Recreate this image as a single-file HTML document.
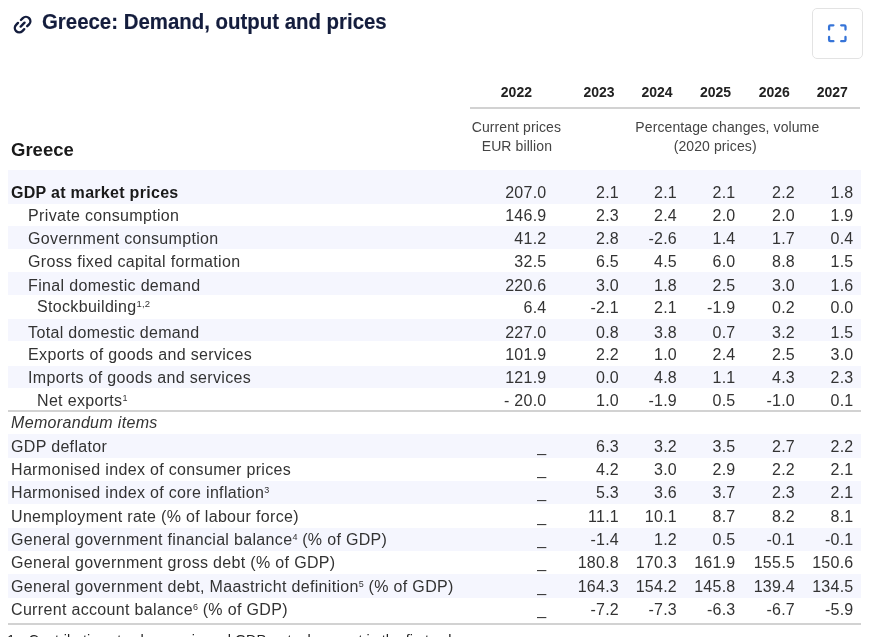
<!DOCTYPE html>
<html><head><meta charset="utf-8">
<style>
html,body{margin:0;padding:0;background:#fff;}
body{width:880px;height:637px;overflow:hidden;position:relative;font-family:"Liberation Sans",sans-serif;color:#333;}
.abs{position:absolute;white-space:nowrap;}
.title{left:41.7px;top:8px;font-size:21.6px;transform:scaleX(0.945);transform-origin:0 0;font-weight:bold;color:#141d3d;line-height:28px;-webkit-text-stroke:0.15px #141d3d;}
.btn{left:812px;top:8px;width:49px;height:49px;border:1px solid #e3e3e3;border-radius:5px;}
.yr{top:83px;font-size:14px;font-weight:bold;color:#222;line-height:18px;text-align:center;width:60px;}
.hrule{left:470px;top:107px;width:390px;height:2px;background:#d2d2d2;}
.sub{font-size:14px;letter-spacing:0.1px;color:#444;line-height:19px;text-align:center;width:240px;}
.greece{left:11px;top:139px;font-size:18.5px;font-weight:bold;color:#1a1a1a;line-height:22px;}
.sh{position:absolute;left:8px;width:853px;background:#f5f6fe;}
.lab{position:absolute;white-space:nowrap;font-size:16px;letter-spacing:0.33px;line-height:20px;transform:scaleX(1.0);transform-origin:0 0;}
.num{position:absolute;white-space:nowrap;font-size:16px;letter-spacing:0.25px;line-height:20px;text-align:right;width:80px;transform:scaleX(1.0);transform-origin:100% 0;}
sup{font-size:9.5px;vertical-align:top;position:relative;top:1.5px;letter-spacing:0.2px;line-height:10px;}
sup.u{font-size:9px;top:2px;letter-spacing:0;}
.line{position:absolute;left:8px;width:853px;height:2px;background:#d2d2d2;}
.foot{top:631px;font-size:14.4px;color:#222;line-height:18px;}
</style></head><body>
<div id="wrap" style="position:absolute;left:0;top:0;width:880px;height:637px;will-change:transform">
<svg class="abs" style="left:9.8px;top:11.8px" width="25.2" height="25.2" viewBox="-12 -12 24 24" fill="none" stroke="#141d3d" stroke-width="2.3" stroke-linecap="round"><g transform="rotate(-45)"><path d="M2 -4.2H4.5A4.2 4.2 0 0 1 4.5 4.2H2"/><path d="M-2 4.2H-4.5A4.2 4.2 0 0 1 -4.5 -4.2H-2"/><path d="M-2.6 0H2.6"/></g></svg>
<div class="abs title">Greece: Demand, output and prices</div>
<div class="abs btn"></div><svg class="abs" style="left:812px;top:8px" width="51" height="51" viewBox="0 0 51 51" fill="none" stroke="#3674d8" stroke-width="2.3" stroke-linecap="round" stroke-linejoin="round"><path d="M17.1 21.6V18.6Q17.1 17.3 18.4 17.3H21.4M29.2 17.3H32.2Q33.5 17.3 33.5 18.6V21.6M33.5 29V31.9Q33.5 33.2 32.2 33.2H29.2M21.4 33.2H18.4Q17.1 33.2 17.1 31.9V29"/></svg>
<div class="abs yr" style="left:486.4px">2022</div>
<div class="abs yr" style="left:569px">2023</div>
<div class="abs yr" style="left:627px">2024</div>
<div class="abs yr" style="left:685.5px">2025</div>
<div class="abs yr" style="left:744.3px">2026</div>
<div class="abs yr" style="left:802.3px">2027</div>
<div class="abs hrule"></div>
<div class="abs sub" style="left:396.4px;top:118px">Current prices</div>
<div class="abs sub" style="left:396.9px;top:137px">EUR billion</div>
<div class="abs sub" style="left:607.3px;top:118px">Percentage changes, volume</div>
<div class="abs sub" style="left:595.2px;top:137px">(2020 prices)</div>
<div class="abs greece">Greece</div>
<div class="sh" style="top:170px;height:33.6px"></div>
<div class="sh" style="top:226.2px;height:22.4px"></div>
<div class="sh" style="top:272.3px;height:22.6px"></div>
<div class="sh" style="top:318.7px;height:22.6px"></div>
<div class="sh" style="top:365.9px;height:21.9px"></div>
<div class="sh" style="top:434.2px;height:23.35px"></div>
<div class="sh" style="top:480.9px;height:23.35px"></div>
<div class="sh" style="top:527.6px;height:23.35px"></div>
<div class="sh" style="top:574.3px;height:23.35px"></div>
<div class="lab" style="left:11px;top:183px;font-weight:bold;color:#1a1a1a;letter-spacing:0.3px;">GDP at market prices</div>
<div class="num" style="left:466.5px;top:183px">207.0</div>
<div class="num" style="left:539px;top:183px">2.1</div>
<div class="num" style="left:597px;top:183px">2.1</div>
<div class="num" style="left:655.5px;top:183px">2.1</div>
<div class="num" style="left:715px;top:183px">2.2</div>
<div class="num" style="left:773.5px;top:183px">1.8</div>
<div class="lab" style="left:28.1px;top:206px;">Private consumption</div>
<div class="num" style="left:466.5px;top:206px">146.9</div>
<div class="num" style="left:539px;top:206px">2.3</div>
<div class="num" style="left:597px;top:206px">2.4</div>
<div class="num" style="left:655.5px;top:206px">2.0</div>
<div class="num" style="left:715px;top:206px">2.0</div>
<div class="num" style="left:773.5px;top:206px">1.9</div>
<div class="lab" style="left:28.1px;top:229px;">Government consumption</div>
<div class="num" style="left:466.5px;top:229px">41.2</div>
<div class="num" style="left:539px;top:229px">2.8</div>
<div class="num" style="left:597px;top:229px">-2.6</div>
<div class="num" style="left:655.5px;top:229px">1.4</div>
<div class="num" style="left:715px;top:229px">1.7</div>
<div class="num" style="left:773.5px;top:229px">0.4</div>
<div class="lab" style="left:28.1px;top:252px;">Gross fixed capital formation</div>
<div class="num" style="left:466.5px;top:252px">32.5</div>
<div class="num" style="left:539px;top:252px">6.5</div>
<div class="num" style="left:597px;top:252px">4.5</div>
<div class="num" style="left:655.5px;top:252px">6.0</div>
<div class="num" style="left:715px;top:252px">8.8</div>
<div class="num" style="left:773.5px;top:252px">1.5</div>
<div class="lab" style="left:28.1px;top:276px;">Final domestic demand</div>
<div class="num" style="left:466.5px;top:276px">220.6</div>
<div class="num" style="left:539px;top:276px">3.0</div>
<div class="num" style="left:597px;top:276px">1.8</div>
<div class="num" style="left:655.5px;top:276px">2.5</div>
<div class="num" style="left:715px;top:276px">3.0</div>
<div class="num" style="left:773.5px;top:276px">1.6</div>
<div class="lab" style="left:37px;top:297px;">Stockbuilding<sup>1,2</sup></div>
<div class="num" style="left:466.5px;top:298px">6.4</div>
<div class="num" style="left:539px;top:298px">-2.1</div>
<div class="num" style="left:597px;top:298px">2.1</div>
<div class="num" style="left:655.5px;top:298px">-1.9</div>
<div class="num" style="left:715px;top:298px">0.2</div>
<div class="num" style="left:773.5px;top:298px">0.0</div>
<div class="lab" style="left:28.1px;top:323px;">Total domestic demand</div>
<div class="num" style="left:466.5px;top:323px">227.0</div>
<div class="num" style="left:539px;top:323px">0.8</div>
<div class="num" style="left:597px;top:323px">3.8</div>
<div class="num" style="left:655.5px;top:323px">0.7</div>
<div class="num" style="left:715px;top:323px">3.2</div>
<div class="num" style="left:773.5px;top:323px">1.5</div>
<div class="lab" style="left:28.1px;top:345px;">Exports of goods and services</div>
<div class="num" style="left:466.5px;top:345px">101.9</div>
<div class="num" style="left:539px;top:345px">2.2</div>
<div class="num" style="left:597px;top:345px">1.0</div>
<div class="num" style="left:655.5px;top:345px">2.4</div>
<div class="num" style="left:715px;top:345px">2.5</div>
<div class="num" style="left:773.5px;top:345px">3.0</div>
<div class="lab" style="left:28.1px;top:368px;">Imports of goods and services</div>
<div class="num" style="left:466.5px;top:368px">121.9</div>
<div class="num" style="left:539px;top:368px">0.0</div>
<div class="num" style="left:597px;top:368px">4.8</div>
<div class="num" style="left:655.5px;top:368px">1.1</div>
<div class="num" style="left:715px;top:368px">4.3</div>
<div class="num" style="left:773.5px;top:368px">2.3</div>
<div class="lab" style="left:37px;top:391px;">Net exports<sup class="u">1</sup></div>
<div class="num" style="left:466.5px;top:391px">- 20.0</div>
<div class="num" style="left:539px;top:391px">1.0</div>
<div class="num" style="left:597px;top:391px">-1.9</div>
<div class="num" style="left:655.5px;top:391px">0.5</div>
<div class="num" style="left:715px;top:391px">-1.0</div>
<div class="num" style="left:773.5px;top:391px">0.1</div>
<div class="lab" style="left:11px;top:413px;font-style:italic;">Memorandum items</div>
<div class="lab" style="left:11px;top:437px;">GDP deflator</div>
<div class="num" style="left:466.5px;top:437px">_</div>
<div class="num" style="left:539px;top:437px">6.3</div>
<div class="num" style="left:597px;top:437px">3.2</div>
<div class="num" style="left:655.5px;top:437px">3.5</div>
<div class="num" style="left:715px;top:437px">2.7</div>
<div class="num" style="left:773.5px;top:437px">2.2</div>
<div class="lab" style="left:11px;top:460px;">Harmonised index of consumer prices</div>
<div class="num" style="left:466.5px;top:460px">_</div>
<div class="num" style="left:539px;top:460px">4.2</div>
<div class="num" style="left:597px;top:460px">3.0</div>
<div class="num" style="left:655.5px;top:460px">2.9</div>
<div class="num" style="left:715px;top:460px">2.2</div>
<div class="num" style="left:773.5px;top:460px">2.1</div>
<div class="lab" style="left:11px;top:483px;">Harmonised index of core inflation<sup class="u">3</sup></div>
<div class="num" style="left:466.5px;top:483px">_</div>
<div class="num" style="left:539px;top:483px">5.3</div>
<div class="num" style="left:597px;top:483px">3.6</div>
<div class="num" style="left:655.5px;top:483px">3.7</div>
<div class="num" style="left:715px;top:483px">2.3</div>
<div class="num" style="left:773.5px;top:483px">2.1</div>
<div class="lab" style="left:11px;top:507px;">Unemployment rate (% of labour force)</div>
<div class="num" style="left:466.5px;top:507px">_</div>
<div class="num" style="left:539px;top:507px">11.1</div>
<div class="num" style="left:597px;top:507px">10.1</div>
<div class="num" style="left:655.5px;top:507px">8.7</div>
<div class="num" style="left:715px;top:507px">8.2</div>
<div class="num" style="left:773.5px;top:507px">8.1</div>
<div class="lab" style="left:11px;top:530px;">General government financial balance<sup class="u">4</sup> (% of GDP)</div>
<div class="num" style="left:466.5px;top:530px">_</div>
<div class="num" style="left:539px;top:530px">-1.4</div>
<div class="num" style="left:597px;top:530px">1.2</div>
<div class="num" style="left:655.5px;top:530px">0.5</div>
<div class="num" style="left:715px;top:530px">-0.1</div>
<div class="num" style="left:773.5px;top:530px">-0.1</div>
<div class="lab" style="left:11px;top:553px;">General government gross debt (% of GDP)</div>
<div class="num" style="left:466.5px;top:553px">_</div>
<div class="num" style="left:539px;top:553px">180.8</div>
<div class="num" style="left:597px;top:553px">170.3</div>
<div class="num" style="left:655.5px;top:553px">161.9</div>
<div class="num" style="left:715px;top:553px">155.5</div>
<div class="num" style="left:773.5px;top:553px">150.6</div>
<div class="lab" style="left:11px;top:577px;">General government debt, Maastricht definition<sup class="u">5</sup> (% of GDP)</div>
<div class="num" style="left:466.5px;top:577px">_</div>
<div class="num" style="left:539px;top:577px">164.3</div>
<div class="num" style="left:597px;top:577px">154.2</div>
<div class="num" style="left:655.5px;top:577px">145.8</div>
<div class="num" style="left:715px;top:577px">139.4</div>
<div class="num" style="left:773.5px;top:577px">134.5</div>
<div class="lab" style="left:11px;top:600px;">Current account balance<sup class="u">6</sup> (% of GDP)</div>
<div class="num" style="left:466.5px;top:600px">_</div>
<div class="num" style="left:539px;top:600px">-7.2</div>
<div class="num" style="left:597px;top:600px">-7.3</div>
<div class="num" style="left:655.5px;top:600px">-6.3</div>
<div class="num" style="left:715px;top:600px">-6.7</div>
<div class="num" style="left:773.5px;top:600px">-5.9</div>
<div class="line" style="top:410px"></div>
<div class="line" style="top:623.2px"></div>
<div class="abs foot" style="left:7px">1.</div><div class="abs foot" style="left:28.5px">Contributions to changes in real GDP, actual amount in the first column.</div>
</div>
</body></html>
